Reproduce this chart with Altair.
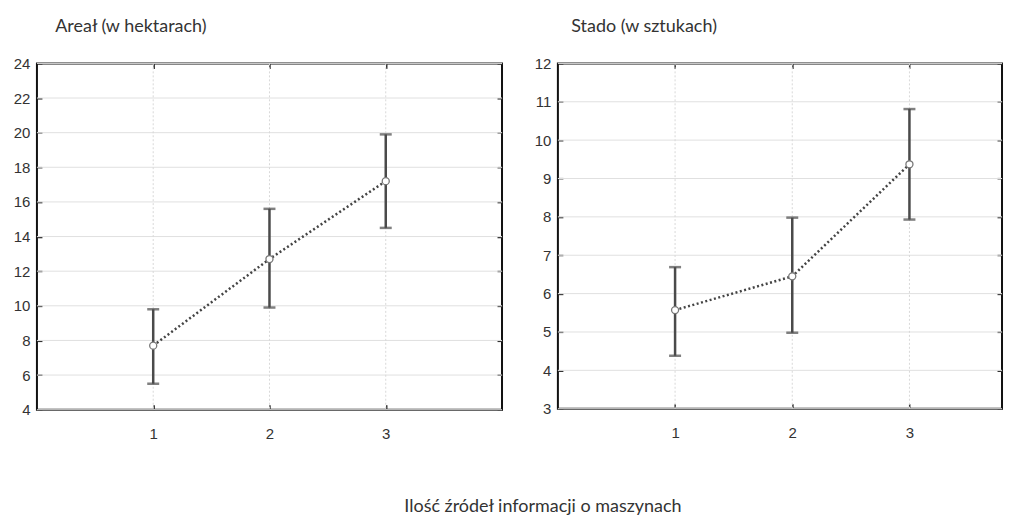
import altair as alt
import pandas as pd

# ---- data ----
groups = [1, 2, 3]
area_mean = [7.7, 12.7, 17.2]
area_low = [5.5, 9.9, 14.5]
area_high = [9.8, 15.6, 19.9]
herd_mean = [5.57, 6.45, 9.37]
herd_low = [4.38, 4.98, 7.93]
herd_high = [6.69, 7.98, 10.81]

area_yticks = [4, 6, 8, 10, 12, 14, 16, 18, 20, 22, 24]
herd_yticks = [3, 4, 5, 6, 7, 8, 9, 10, 11, 12]
x_ticks = [1, 2, 3]

area_title = "Areał (w hektarach)"
herd_title = "Stado (w sztukach)"
x_title = "Ilość źródeł informacji o maszynach"

LABEL_FONT = "Liberation Sans"
TITLE_FONT = "Lato"
INK = "#4a4a4a"


def panel(means, lows, highs, ydom, yticks, xmax, width, height, title, tdx):
    df = pd.DataFrame({"x": groups, "m": means, "lo": lows, "hi": highs})
    gy = pd.DataFrame({"v": yticks})
    gx = pd.DataFrame({"v": x_ticks})
    xs = alt.Scale(domain=[0, xmax], nice=False, zero=False)
    ys = alt.Scale(domain=ydom, nice=False, zero=False)

    common = dict(domain=False, grid=False, tickSize=5, offset=-5,
                  tickColor="#333", tickWidth=1.5, title=None)
    ax_bottom = alt.Axis(orient="bottom", values=x_ticks, labelPadding=17,
                         labelFont=LABEL_FONT, labelFontSize=15,
                         labelColor="#333", **common)
    ax_left = alt.Axis(orient="left", values=yticks, labelPadding=7,
                       labelFont=LABEL_FONT, labelFontSize=15,
                       labelColor="#333", **common)
    ax_top = alt.Axis(orient="top", values=x_ticks, labels=False, **common)
    ax_right = alt.Axis(orient="right", values=yticks, labels=False, **common)

    grid_y = alt.Chart(gy).mark_rule(color="#e0e0e0", strokeWidth=1).encode(
        y=alt.Y("v:Q", scale=ys, axis=None))
    grid_x = alt.Chart(gx).mark_rule(color="#d8d8d8", strokeWidth=1,
                                     strokeDash=[2, 2]).encode(
        x=alt.X("v:Q", scale=xs, axis=None))

    bars = alt.Chart(df).mark_rule(color=INK, strokeWidth=2.5).encode(
        x=alt.X("x:Q", scale=xs, axis=ax_bottom),
        y=alt.Y("lo:Q", scale=ys, axis=ax_left),
        y2="hi:Q")
    cap_lo = alt.Chart(df).mark_tick(color=INK, orient="horizontal",
                                     size=12, thickness=2.5).encode(
        x=alt.X("x:Q", scale=xs, axis=None),
        y=alt.Y("lo:Q", scale=ys, axis=None))
    cap_hi = alt.Chart(df).mark_tick(color=INK, orient="horizontal",
                                     size=12, thickness=2.5).encode(
        x=alt.X("x:Q", scale=xs, axis=None),
        y=alt.Y("hi:Q", scale=ys, axis=None))
    line = alt.Chart(df).mark_line(color="#444", strokeWidth=2.5,
                                   strokeDash=[2, 2.5]).encode(
        x=alt.X("x:Q", scale=xs, axis=ax_top),
        y=alt.Y("m:Q", scale=ys, axis=ax_right))
    pts = alt.Chart(df).mark_point(shape="circle", filled=True, fill="white",
                                   stroke="#777", strokeWidth=1.3,
                                   size=50, opacity=1).encode(
        x=alt.X("x:Q", scale=xs, axis=None),
        y=alt.Y("m:Q", scale=ys, axis=None))

    return alt.layer(grid_y, grid_x, bars, cap_lo, cap_hi, line, pts).resolve_axis(
        x="independent", y="independent"
    ).properties(
        width=width, height=height,
        title=alt.TitleParams(title, anchor="start", dx=tdx, offset=20,
                              font=TITLE_FONT, fontSize=18,
                              fontWeight="normal", color="#333"))


left = panel(area_mean, area_low, area_high, [4, 24], area_yticks, 4.0,
             466, 347, area_title, 42)
right = panel(herd_mean, herd_low, herd_high, [3, 12], herd_yticks, 3.79,
              445, 346, herd_title, 37)

chart = alt.hconcat(left, right, spacing=29).properties(
    padding={"left": 4, "top": 9, "right": 3, "bottom": 0},
    background="white",
    title=alt.TitleParams(x_title, orient="bottom", anchor="middle",
                          dx=35, offset=55, font=TITLE_FONT, fontSize=18,
                          fontWeight="normal", color="#333"),
).configure_view(stroke="#111", strokeWidth=2)

chart.save("out.html", embed_options={"renderer": "svg", "actions": False})
